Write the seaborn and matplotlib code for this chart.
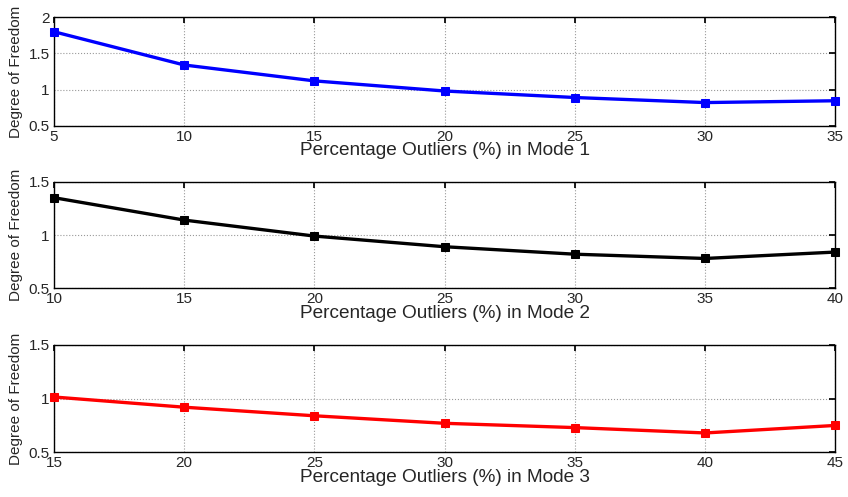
import matplotlib
matplotlib.use("Agg")
import matplotlib.pyplot as plt
import seaborn as sns
import pandas as pd

x_mode1 = [5, 10, 15, 20, 25, 30, 35]
dof_mode1 = [1.80, 1.34, 1.12, 0.98, 0.89, 0.82, 0.845]
x_mode2 = [10, 15, 20, 25, 30, 35, 40]
dof_mode2 = [1.35, 1.14, 0.99, 0.89, 0.82, 0.78, 0.84]
x_mode3 = [15, 20, 25, 30, 35, 40, 45]
dof_mode3 = [1.015, 0.92, 0.84, 0.77, 0.73, 0.68, 0.75]

xlabels = ["Percentage Outliers (%) in Mode 1",
           "Percentage Outliers (%) in Mode 2",
           "Percentage Outliers (%) in Mode 3"]
ylabel = "Degree of Freedom"
colors = ["#0000ff", "#000000", "#ff0000"]
ylims = [(0.5, 2.0), (0.5, 1.5), (0.5, 1.5)]
yticks = [[0.5, 1, 1.5, 2], [0.5, 1, 1.5], [0.5, 1, 1.5]]

sns.set_theme(style="white")
plt.rcParams['font.family'] = ['Liberation Sans', 'DejaVu Sans']

fig = plt.figure(figsize=(8.48, 4.97), dpi=100)
rects = [(0.0637, 0.7471, 0.9213, 0.2181),
         (0.0637, 0.4199, 0.9213, 0.2145),
         (0.0637, 0.0900, 0.9213, 0.2159)]

series = [(x_mode1, dof_mode1), (x_mode2, dof_mode2), (x_mode3, dof_mode3)]
for i, ((xs, ys), rect) in enumerate(zip(series, rects)):
    ax = fig.add_axes(rect)
    df = pd.DataFrame({"x": xs, "y": ys})
    sns.lineplot(data=df, x="x", y="y", ax=ax, color=colors[i], linewidth=2.4,
                 marker="s", markersize=5.5, markeredgecolor=colors[i],
                 clip_on=False, zorder=5)
    ax.set_xlim(xs[0], xs[-1])
    ax.set_xticks(xs)
    ax.set_xticklabels([str(v) for v in xs])
    ax.set_ylim(*ylims[i])
    ax.set_yticks(yticks[i])
    ax.set_yticklabels([("%g" % v) for v in yticks[i]])
    ax.grid(True, linestyle=":", color="#999999", linewidth=0.8)
    ax.tick_params(direction="in", top=True, right=True, length=4,
                   labelsize=11, pad=3, color="black")
    for s in ax.spines.values():
        s.set_color("black")
        s.set_linewidth(1.0)
    ax.set_xlabel(xlabels[i], fontsize=13.7, labelpad=-1)
    ax.set_ylabel(ylabel, fontsize=11, va="center")
    ax.yaxis.set_label_coords(-0.049, 0.5)

fig.savefig("out.png", dpi=100)
